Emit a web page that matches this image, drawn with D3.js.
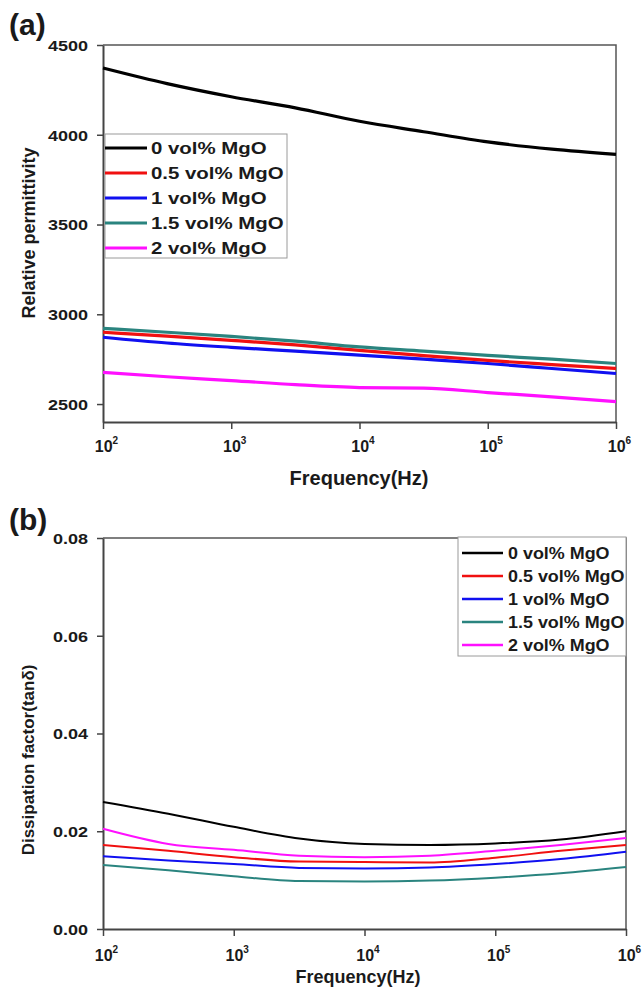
<!DOCTYPE html>
<html>
<head>
<meta charset="utf-8">
<script src="https://d3js.org/d3.v7.min.js"></script>
<style>
  body { margin: 0; background: #fff; }
  text { font-family: Arial, "Liberation Sans", sans-serif; font-weight: bold; fill: #1a1a1a; }
</style>
</head>
<body>
<script>
// frequencies (Hz) where the curves were read
var freq = [100, 316, 1000, 3162, 10000, 31623, 100000, 316228, 1000000];

var labels = ["0 vol% MgO", "0.5 vol% MgO", "1 vol% MgO", "1.5 vol% MgO", "2 vol% MgO"];
var colors = ["#000000", "#f01010", "#1010f0", "#2a847f", "#ff10ff"];

// panel (a) relative permittivity
var permit0   = [4372, 4285, 4212, 4150, 4075, 4017, 3960, 3920, 3891];
var permit05  = [2900, 2878, 2855, 2830, 2799, 2770, 2743, 2720, 2698];
var permit1   = [2872, 2840, 2816, 2795, 2773, 2750, 2726, 2698, 2670];
var permit15  = [2922, 2900, 2877, 2850, 2818, 2795, 2771, 2750, 2726];
var permit2   = [2676, 2652, 2631, 2608, 2592, 2589, 2564, 2540, 2514];

// panel (b) dissipation factor
var tan0  = [0.0260, 0.0236, 0.0209, 0.0185, 0.0174, 0.0172, 0.0175, 0.0183, 0.0200];
var tan05 = [0.0172, 0.0160, 0.0147, 0.0138, 0.0137, 0.0136, 0.0146, 0.0160, 0.0172];
var tan1  = [0.0149, 0.0140, 0.0133, 0.0125, 0.0124, 0.0126, 0.0133, 0.0143, 0.0158];
var tan15 = [0.0131, 0.0120, 0.0108, 0.0098, 0.0097, 0.0099, 0.0105, 0.0114, 0.0127];
var tan2  = [0.0205, 0.0174, 0.0162, 0.0150, 0.0147, 0.0150, 0.0160, 0.0172, 0.0186];

var xTicks = [1e2, 1e3, 1e4, 1e5, 1e6];
var xExp = ["2", "3", "4", "5", "6"];
var yTicksA = [2500, 3000, 3500, 4000, 4500];
var yTicksB = [0, 0.02, 0.04, 0.06, 0.08];

var W = 642, H = 988;
var svg = d3.select("body").append("svg")
    .attr("width", W)
    .attr("height", H);

// stretch text horizontally (the original lettering is wide)
function widen(sel, k){
  sel.each(function(){
    var L = this.getComputedTextLength();
    this.setAttribute("textLength", L * k);
    this.setAttribute("lengthAdjust", "spacingAndGlyphs");
  });
}

function panel(o){
  var x = d3.scaleLog().domain([1e2, 1e6]).range([o.left, o.right]);
  var y = d3.scaleLinear().domain(o.yDomain).range([o.bottom, o.top]);
  var g = svg.append("g");

  // frame top + right
  g.append("path")
    .attr("d", "M" + o.left + "," + o.top + "H" + o.right + "V" + o.bottom)
    .attr("fill", "none").attr("stroke", "#555").attr("stroke-width", 1.5);

  // y axis
  var ya = g.append("g")
    .attr("transform", "translate(" + o.left + ",0)")
    .call(d3.axisLeft(y).tickValues(o.yTicks).tickSize(6).tickSizeOuter(0).tickPadding(9).tickFormat(o.fmt));
  ya.select(".domain").attr("stroke", "#444").attr("stroke-width", 2);
  ya.selectAll(".tick line").attr("stroke", "#444").attr("stroke-width", 1.5);
  ya.selectAll(".tick text")
    .attr("font-size", 15).attr("font-family", null).attr("fill", "#1a1a1a")
    .attr("dy", "0.36em")
    .call(widen, 1.2);

  // x axis
  var xa = g.append("g")
    .attr("transform", "translate(0," + o.bottom + ")")
    .call(d3.axisBottom(x).tickValues(xTicks).tickSize(7).tickSizeOuter(0).tickFormat(""));
  xa.select(".domain").attr("stroke", "#444").attr("stroke-width", 2);
  xa.selectAll(".tick line").attr("stroke", "#444").attr("stroke-width", 1.5);
  xa.selectAll(".tick").each(function(d, i){
    var t = d3.select(this).append("text")
      .attr("y", o.xLabY).attr("x", 3)
      .attr("text-anchor", "middle")
      .attr("font-size", 16).attr("font-family", null).attr("fill", "#1a1a1a");
    t.append("tspan").text("10");
    t.append("tspan").attr("dy", -8).attr("font-size", 10).text(xExp[i]);
  });

  // titles
  g.append("text")
    .attr("x", o.xTitleX).attr("y", o.xTitleY)
    .attr("text-anchor", "middle")
    .attr("font-size", o.xTitleSize)
    .text("Frequency(Hz)");
  g.append("text")
    .attr("transform", "translate(" + o.yTitleX + "," + o.yTitleY + ")rotate(-90)")
    .attr("text-anchor", "middle")
    .attr("font-size", o.yTitleSize)
    .text(o.yTitle);
  g.append("text")
    .attr("x", 9).attr("y", o.tagY)
    .attr("font-size", 30)
    .text(o.tag);

  // curves
  var line = d3.line()
    .x(function(d){ return x(d[0]); })
    .y(function(d){ return y(d[1]); })
    .curve(d3.curveMonotoneX);
  o.order.forEach(function(k){
    g.append("path")
      .datum(d3.zip(freq, o.series[k]))
      .attr("d", line)
      .attr("fill", "none")
      .attr("stroke", colors[k])
      .attr("stroke-width", o.lineW)
      .attr("stroke-linejoin", "round");
  });

  // legend
  var L = o.legend;
  var lg = g.append("g");
  lg.append("rect")
    .attr("x", L.x).attr("y", L.y).attr("width", L.w).attr("height", L.h)
    .attr("fill", "#fff").attr("stroke", "#9a9a9a").attr("stroke-width", 1);
  labels.forEach(function(lab, i){
    var cy = L.y + L.first + i * L.step;
    lg.append("line")
      .attr("x1", L.x + L.l1).attr("x2", L.x + L.l2)
      .attr("y1", cy).attr("y2", cy)
      .attr("stroke", colors[i]).attr("stroke-width", L.lw);
    lg.append("text")
      .attr("x", L.x + L.tx).attr("y", cy)
      .attr("dy", "0.36em")
      .attr("font-size", L.fs)
      .text(lab)
      .call(widen, L.k);
  });
}

panel({
  left: 103, right: 616, top: 45, bottom: 422,
  yDomain: [2400, 4500], yTicks: yTicksA, fmt: d3.format("d"),
  xLabY: 30, xTitleX: 359, xTitleY: 485, xTitleSize: 20,
  yTitle: "Relative permittivity", yTitleX: 35, yTitleY: 233, yTitleSize: 18,
  tag: "(a)", tagY: 35,
  series: [permit0, permit05, permit1, permit15, permit2],
  order: [0, 4, 2, 1, 3],
  lineW: 3.2,
  legend: { x: 105, y: 134, w: 182, h: 124, first: 14, step: 25, l1: 0, l2: 42, tx: 46, fs: 17, lw: 3.2, k: 1.2 }
});

panel({
  left: 103, right: 626, top: 538, bottom: 929,
  yDomain: [0, 0.08], yTicks: yTicksB, fmt: d3.format(".2f"),
  xLabY: 32, xTitleX: 358, xTitleY: 983, xTitleSize: 18,
  yTitle: "Dissipation factor(tan\u03b4)", yTitleX: 34, yTitleY: 760, yTitleSize: 17,
  tag: "(b)", tagY: 530,
  series: [tan0, tan05, tan1, tan15, tan2],
  order: [0, 4, 1, 2, 3],
  lineW: 2,
  legend: { x: 458, y: 537, w: 168, h: 119, first: 16, step: 23, l1: 4, l2: 45, tx: 50, fs: 16, lw: 2.5, k: 1.12 }
});
</script>
</body>
</html>
